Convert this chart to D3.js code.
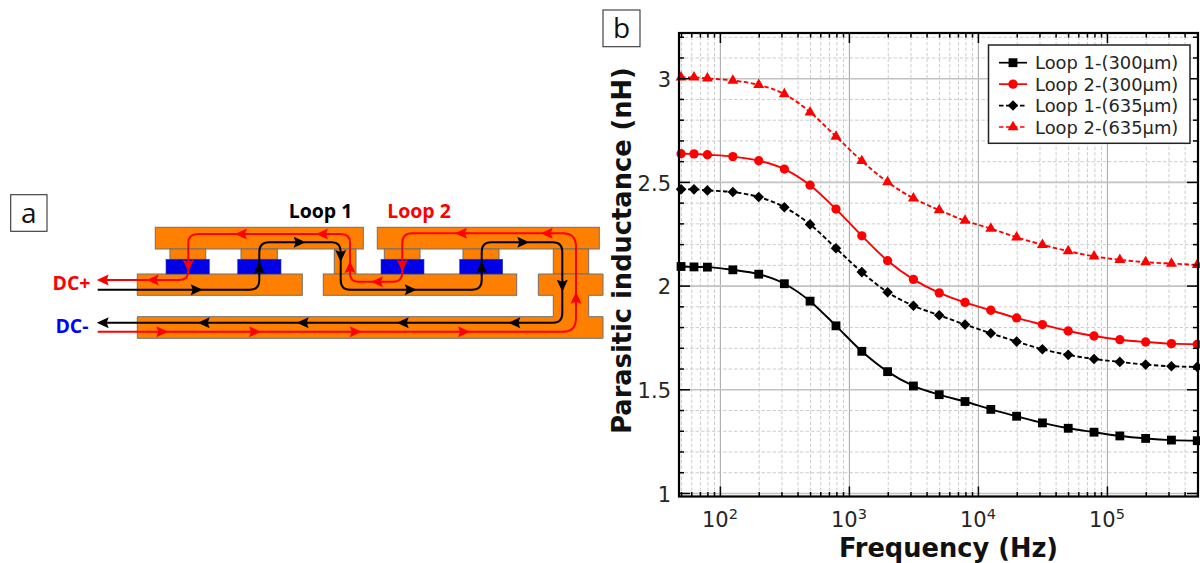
<!DOCTYPE html>
<html><head><meta charset="utf-8">
<script src="https://cdn.jsdelivr.net/npm/d3@7"></script>
<style>html,body{margin:0;padding:0;background:#fff}svg{display:block}</style>
</head><body><svg id="c" width="1200" height="563"></svg>
<script>
const frequencies=[50,63,80,126,200,316,500,794,1259,1995,3162,5012,7943,12589,19953,31623,50119,79433,125893,199526,316228,501187];
const loop1_300=[2.092,2.090,2.089,2.076,2.055,2.009,1.925,1.806,1.683,1.585,1.516,1.474,1.441,1.403,1.370,1.338,1.312,1.293,1.275,1.263,1.255,1.252];
const loop2_300=[2.636,2.635,2.631,2.622,2.602,2.562,2.484,2.369,2.240,2.120,2.030,1.965,1.919,1.881,1.844,1.812,1.781,1.757,1.739,1.728,1.720,1.717];
const loop1_635=[2.464,2.464,2.459,2.451,2.427,2.378,2.295,2.180,2.065,1.968,1.903,1.857,1.812,1.770,1.730,1.693,1.666,1.646,1.632,1.619,1.611,1.608];
const loop2_635=[3.004,3.004,2.999,2.989,2.968,2.924,2.836,2.719,2.601,2.499,2.421,2.364,2.313,2.275,2.233,2.197,2.166,2.141,2.124,2.113,2.106,2.100];
const seriesNames=["Loop 1-(300µm)","Loop 2-(300µm)","Loop 1-(635µm)","Loop 2-(635µm)"];
const seriesColors=["#000000","#ff0000","#000000","#ff0000"];
const squareDiamond={draw(ctx,size){const r=Math.sqrt(size/2);ctx.moveTo(0,-r);ctx.lineTo(r,0);ctx.lineTo(0,r);ctx.lineTo(-r,0);ctx.closePath();}};
const seriesSymbols=[d3.symbolSquare,d3.symbolCircle,squareDiamond,d3.symbolTriangle];
const seriesSizes=[78,68,56,52];
const seriesDash=[null,null,"4.5,2.5","4.5,2.5"];
const seriesValues=[loop1_300,loop2_300,loop1_635,loop2_635];
const xMajor=[100,1000,10000,100000];
const xMinor=[50,60,70,80,90,200,300,400,500,600,700,800,900,2000,3000,4000,5000,6000,7000,8000,9000,20000,30000,40000,50000,60000,70000,80000,90000,200000,300000,400000,500000];
const yMajor=[1,1.5,2,2.5,3];
const yMinor=[1.1,1.2,1.3,1.4,1.6,1.7,1.8,1.9,2.1,2.2,2.3,2.4,2.6,2.7,2.8,2.9,3.1,3.2];
const xExp={100:"2",1000:"3",10000:"4",100000:"5"};

// panel (a) schematic geometry
const plates=[[155.3,227.3,208,21.7],[377.3,227.3,222,21.7],[170,249,35.7,10.3],[241,249,36.3,10.3],[384.3,249,35.7,10.3],[463,249,36,10.3],[334.3,249,21.7,25],[553.3,249,35.4,25],[137.3,274,165,21.3],[323.3,274,193.4,21.3]];
const chips=[[166,259.3,43.3,14.7],[237.7,259.3,43.3,14.7],[381,259.3,43,14.7],[459.7,259.3,43,14.7]];
const lowerOutline="M538.3,274H603V295.3H588.7V316.7H603V338.3H137.3V316.7H553.3V295.3H538.3Z";
const blackWire="M97.7,289.7H250Q259.3,289.7 259.3,280V252Q259.3,242.3 269,242.3H332Q340.7,242.3 340.7,252V280Q340.7,289.7 350,289.7H472Q481.7,289.7 481.7,280V252Q481.7,242.3 491,242.3H553Q562.3,242.3 562.3,252V313Q562.3,322.7 553,322.7H100";
const redWire="M97.7,331.7H563Q576,331.7 576,318V247Q576,233.3 563,233.3H412Q402.3,233.3 402.3,243V272Q402.3,281.7 393,281.7H358Q350,281.7 350,273V243Q350,234 341,234H198Q188.3,234 188.3,243V271Q188.3,280 179,280H100";
const blackArrows=[[202.7,289.7,0],[259.3,261.7,-90],[305.7,242.3,0],[340.7,262,90],[416.7,289.7,0],[481.7,261,-90],[529.3,242.3,0],[562.3,291.7,90],[508.3,322.7,180],[396.7,322.7,180],[296.7,322.7,180],[197.7,322.7,180],[96.7,322.7,180]];
const redArrows=[[168.3,331.7,0],[261,331.7,0],[361.7,331.7,0],[470,331.7,0],[576,291.7,-90],[540.7,233.3,180],[455,233.3,180],[402.3,271.7,90],[371,281.7,180],[350,261,-90],[316,234,180],[235,234,180],[188.3,271.7,90],[146.7,280,180],[96.7,280,180]];

const svg=d3.select("#c");
// ---------- panel a
const a=svg.append("g");
a.selectAll("rect.p").data(plates).join("rect").attr("x",d=>d[0]).attr("y",d=>d[1]).attr("width",d=>d[2]).attr("height",d=>d[3]).attr("fill","#ff8000").attr("stroke","#6e6e6e").attr("stroke-width",1);
a.append("path").attr("d",lowerOutline).attr("fill","#ff8000").attr("stroke","#6e6e6e").attr("stroke-width",1);
a.selectAll("rect.c").data(chips).join("rect").attr("x",d=>d[0]).attr("y",d=>d[1]).attr("width",d=>d[2]).attr("height",d=>d[3]).attr("fill","#0000e6").attr("stroke","#3a3a8a").attr("stroke-width",0.6);
a.append("path").attr("d",redWire).attr("fill","none").attr("stroke","#ff0000").attr("stroke-width",2);
a.append("path").attr("d",blackWire).attr("fill","none").attr("stroke","#000").attr("stroke-width",2);
const head="M0,0L-12,-5.5L-10,0L-12,5.5Z";
a.selectAll("path.ra").data(redArrows).join("path").attr("d",head).attr("fill","#ff0000").attr("transform",d=>`translate(${d[0]},${d[1]}) rotate(${d[2]})`);
a.selectAll("path.ba").data(blackArrows).join("path").attr("d",head).attr("fill","#000").attr("transform",d=>`translate(${d[0]},${d[1]}) rotate(${d[2]})`);
const bold=(t,x,y,col)=>a.append("text").text(t).attr("x",x).attr("y",y).attr("fill",col).attr("font-family","'Open Sans'").attr("font-weight",700).attr("font-size",19.5).attr("text-anchor","middle");
bold("DC+",71.5,290,"#ff0000");bold("DC-",72,333,"#0000ff");bold("Loop 1",320.5,218,"#000");bold("Loop 2",419,218,"#ff0000");

function panelLabel(t,x,y,w,h){
  svg.append("rect").attr("x",x).attr("y",y).attr("width",w).attr("height",h).attr("fill","#fff").attr("stroke","#333").attr("stroke-width",1.1);
  svg.append("text").text(t).attr("x",x+w/2).attr("y",y+h/2+10).attr("text-anchor","middle").attr("font-family","'Open Sans'").attr("font-size",28).attr("fill","#111");
}
panelLabel("a",10.7,194.7,36.3,36.6);
panelLabel("b",603,10,37,36.7);

// ---------- panel b
const L=679,R=1198,T=33,B=496.5;
const x=d3.scaleLog().domain([48.2,508000]).range([L,R]);
const y=d3.scaleLinear().domain([0.983,3.218]).range([B,T]);
const W=R-L,H=B-T;
const g=svg.append("g");
function gridAxis(ax,tr,col,w,dash){
  const n=g.append("g").attr("transform",tr).call(ax);
  n.select(".domain").remove();
  n.selectAll("line").attr("stroke",col).attr("stroke-width",w).attr("stroke-dasharray",dash);
  n.selectAll("text").remove();
}
gridAxis(d3.axisBottom(x).tickValues(xMinor).tickSize(-H),`translate(0,${B})`,"#cdcdcd",1,"3.5,2");
gridAxis(d3.axisLeft(y).tickValues(yMinor).tickSize(-W),`translate(${L},0)`,"#cdcdcd",1,"3.5,2");
gridAxis(d3.axisBottom(x).tickValues(xMajor).tickSize(-H),`translate(0,${B})`,"#adadad",1.1,null);
gridAxis(d3.axisLeft(y).tickValues(yMajor).tickSize(-W),`translate(${L},0)`,"#c2c2c2",1.6,null);

// series
seriesValues.forEach((vals,i)=>{
  const pts=frequencies.map((f,j)=>[f,vals[j]]);
  g.append("path").datum(pts).attr("fill","none").attr("stroke",seriesColors[i]).attr("stroke-width",1.9).attr("stroke-dasharray",seriesDash[i])
    .attr("d",d3.line().curve(d3.curveMonotoneX).x(d=>x(d[0])).y(d=>y(d[1])));
  g.selectAll(null).data(pts).join("path").attr("d",d3.symbol().type(seriesSymbols[i]).size(seriesSizes[i])).attr("fill",seriesColors[i])
    .attr("transform",d=>`translate(${x(d[0])},${y(d[1])})`);
});

// inside ticks and frame
function tickAxis(ax,tr){
  const n=g.append("g").attr("transform",tr).call(ax);
  n.select(".domain").remove();
  n.selectAll("line").attr("stroke","#000").attr("stroke-width",1.5);
  n.selectAll("text").remove();
}
const tx=(vals,s)=>d3.axisBottom(x).tickValues(vals).tickSize(s);
const ty=(vals,s)=>d3.axisLeft(y).tickValues(vals).tickSize(s);
tickAxis(tx(xMajor,-10),`translate(0,${B})`);tickAxis(tx(xMinor,-4.5),`translate(0,${B})`);
tickAxis(tx(xMajor,10),`translate(0,${T})`);tickAxis(tx(xMinor,4.5),`translate(0,${T})`);
tickAxis(ty(yMajor,-11),`translate(${L},0)`);tickAxis(ty(yMinor,-5),`translate(${L},0)`);
tickAxis(ty(yMajor,11),`translate(${R},0)`);tickAxis(ty(yMinor,5),`translate(${R},0)`);
g.append("rect").attr("x",L).attr("y",T).attr("width",W).attr("height",H).attr("fill","none").attr("stroke","#000").attr("stroke-width",2.2);

// tick labels
const font="'DejaVu Sans'";
g.selectAll("text.yl").data(yMajor).join("text").attr("class","yl").text(d=>d).attr("x",671).attr("y",d=>y(d)+8.8)
  .attr("text-anchor","end").attr("font-family",font).attr("font-size",21).attr("fill","#262626");
const xl=g.selectAll("text.xl").data(xMajor).join("text").attr("class","xl").attr("x",d=>x(d)).attr("y",526.5)
  .attr("text-anchor","middle").attr("font-family",font).attr("font-size",21).attr("fill","#262626");
xl.append("tspan").text("10");
xl.append("tspan").text(d=>xExp[d]).attr("font-size",14.5).attr("dy",-8);
// titles
g.append("text").text("Frequency (Hz)").attr("x",948.5).attr("y",556.5).attr("text-anchor","middle").attr("font-family",font).attr("font-weight",700).attr("font-size",25.7).attr("fill","#111");
g.append("text").text("Parasitic inductance (nH)").attr("transform","translate(631,250.5) rotate(-90)").attr("text-anchor","middle").attr("font-family",font).attr("font-weight",700).attr("font-size",25.7).attr("fill","#111");

// legend
const lg=g.append("g");
lg.append("rect").attr("x",988.5).attr("y",45).attr("width",201.5).attr("height",98.3).attr("fill","#fff").attr("stroke","#222").attr("stroke-width",1.5);
const rowY=d3.scalePoint().domain(seriesNames).range([62.7,127]);
const row=lg.selectAll("g").data(seriesNames).join("g").attr("transform",d=>`translate(0,${rowY(d)})`);
row.append("line").attr("x1",999).attr("x2",1027).attr("stroke",(d,i)=>seriesColors[i]).attr("stroke-width",1.7).attr("stroke-dasharray",(d,i)=>seriesDash[i]);
row.append("path").attr("transform","translate(1013,0)").attr("d",(d,i)=>d3.symbol().type(seriesSymbols[i]).size(seriesSizes[i])()).attr("fill",(d,i)=>seriesColors[i]);
row.append("text").text(d=>d).attr("x",1035).attr("y",6.5).attr("font-family",font).attr("font-size",17.9).attr("fill","#262626");
</script></body></html>
